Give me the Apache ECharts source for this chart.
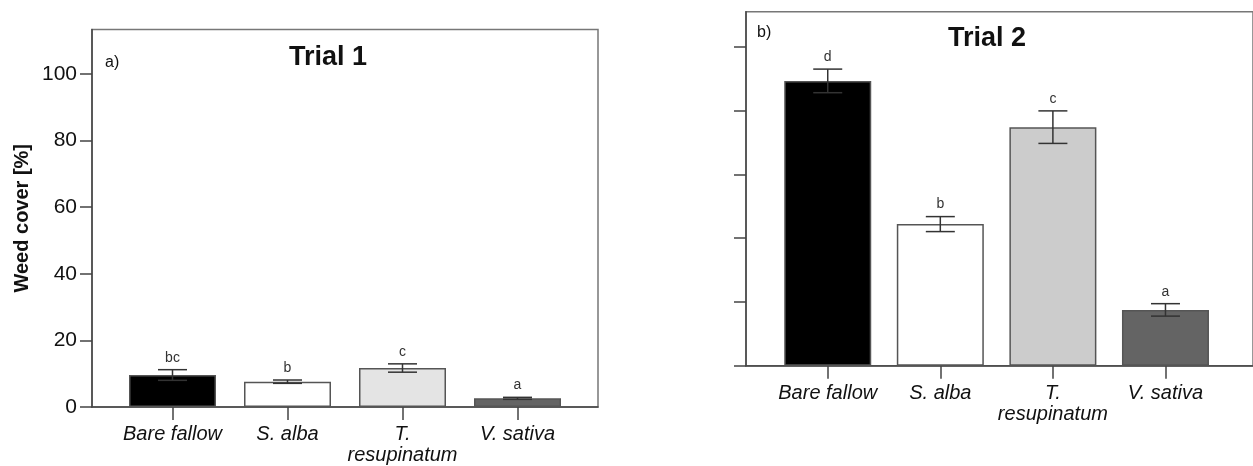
<!DOCTYPE html>
<html>
<head>
<meta charset="utf-8">
<script src="https://cdn.jsdelivr.net/npm/echarts@6/dist/echarts.min.js"></script>
<style>
  html, body { margin: 0; padding: 0; background: #fff; }
  #chart { width: 1253px; height: 466px; }
</style>
</head>
<body>
<div id="chart"></div>
<script>
// data
const categories = ['Bare fallow', 'S. alba', 'T.\nresupinatum', 'V. sativa'];
const trial1Means = [9.6, 7.6, 11.7, 2.6];
const trial1Errors = [1.6, 0.5, 1.25, 0.3];
const trial1Letters = ['bc', 'b', 'c', 'a'];
const trial2Means = [89.3, 44.4, 74.8, 17.5];
const trial2Errors = [3.7, 2.35, 5.1, 1.95];
const trial2Letters = ['d', 'b', 'c', 'a'];
const yTicks = [0, 20, 40, 60, 80, 100];
const catTicks = [0, 1, 2, 3];

const trial1Colors = ['#000000', '#ffffff', '#e4e4e4', '#646464'];
const trial2Colors = ['#000000', '#ffffff', '#cccccc', '#646464'];

const FONT = 'Liberation Sans, Arial, sans-serif';
const axisColor = '#444';

const xAxisFor = (gridIndex, min, max) => ({
  type: 'value',
  gridIndex,
  min,
  max,
  axisLine: { onZero: false, lineStyle: { color: axisColor, width: 1.5 } },
  axisTick: { customValues: catTicks, length: 13, lineStyle: { color: axisColor, width: 1.5 } },
  axisLabel: {
    customValues: catTicks,
    formatter: v => categories[v],
    color: '#111',
    fontFamily: FONT,
    fontStyle: 'italic',
    fontSize: 20,
    lineHeight: 21,
    margin: 17
  },
  splitLine: { show: false }
});

const yAxisFor = (gridIndex, max, showLabels) => ({
  type: 'value',
  gridIndex,
  min: 0,
  max,
  axisLine: { show: true, onZero: false, lineStyle: { color: axisColor, width: 1.5 } },
  axisTick: { show: true, customValues: yTicks, length: 12, lineStyle: { color: axisColor, width: 1.5 } },
  axisLabel: {
    show: showLabels,
    customValues: yTicks,
    color: '#111',
    fontFamily: FONT,
    fontSize: 21,
    margin: 15
  },
  splitLine: { show: false }
});

const barSeries = (idx, means, colors) => ({
  type: 'bar',
  xAxisIndex: idx,
  yAxisIndex: idx,
  barWidth: 87,
  data: means.map((v, i) => ({
    value: [i, v],
    itemStyle: { color: colors[i], borderColor: '#555', borderWidth: 1.5 }
  })),
  animation: false
});

const errorSeries = (idx, means, errors, letters) => ({
  type: 'custom',
  xAxisIndex: idx,
  yAxisIndex: idx,
  z: 5,
  data: means.map((m, i) => [i, m, errors[i]]),
  renderItem: (params, api) => {
    const i = api.value(0);
    const m = api.value(1);
    const e = api.value(2);
    const top = api.coord([i, m + e]);
    const bot = api.coord([i, m - e]);
    const capHalf = 14.5;
    const style = { stroke: '#333', lineWidth: 1.5 };
    return {
      type: 'group',
      children: [
        { type: 'line', shape: { x1: top[0], y1: top[1], x2: bot[0], y2: bot[1] }, style },
        { type: 'line', shape: { x1: top[0] - capHalf, y1: top[1], x2: top[0] + capHalf, y2: top[1] }, style },
        { type: 'line', shape: { x1: bot[0] - capHalf, y1: bot[1], x2: bot[0] + capHalf, y2: bot[1] }, style },
        {
          type: 'text',
          style: {
            text: letters[params.dataIndex],
            x: top[0], y: top[1] - 12,
            align: 'center', verticalAlign: 'middle',
            fill: '#333', font: '14px ' + FONT
          }
        }
      ]
    };
  },
  animation: false
});

const chart = echarts.init(document.getElementById('chart'));
chart.setOption({
  animation: false,
  backgroundColor: '#fff',
  title: [
    { text: 'Trial 1', left: 289, top: 44, padding: 0, textStyle: { fontFamily: FONT, fontSize: 27, fontWeight: 'bold', color: '#111' } },
    { text: 'Trial 2', left: 948, top: 25, padding: 0, textStyle: { fontFamily: FONT, fontSize: 27, fontWeight: 'bold', color: '#111' } },
    { text: 'a)', left: 105, top: 55, padding: 0, textStyle: { fontFamily: FONT, fontSize: 16, fontWeight: 'normal', color: '#111' } },
    { text: 'b)', left: 757, top: 25, padding: 0, textStyle: { fontFamily: FONT, fontSize: 16, fontWeight: 'normal', color: '#111' } }
  ],
  grid: [
    { left: 92, top: 29.5, width: 506, height: 377.5, show: true, borderColor: '#777', borderWidth: 1.5, backgroundColor: 'transparent' },
    { left: 746, top: 11.7, width: 517, height: 354, show: true, borderColor: '#777', borderWidth: 1.5, backgroundColor: 'transparent' }
  ],
  xAxis: [
    xAxisFor(0, -0.70, 3.70),
    xAxisFor(1, -0.726, -0.726 + 517 / 114.8)
  ],
  yAxis: [
    Object.assign(yAxisFor(0, 113.3, true), {
      name: 'Weed cover [%]',
      nameLocation: 'middle',
      nameRotate: 90,
      nameGap: 60,
      nameTextStyle: { fontFamily: FONT, fontSize: 20, fontWeight: 'bold', color: '#111' }
    }),
    yAxisFor(1, 111, false)
  ],
  series: [
    barSeries(0, trial1Means, trial1Colors),
    errorSeries(0, trial1Means, trial1Errors, trial1Letters),
    barSeries(1, trial2Means, trial2Colors),
    errorSeries(1, trial2Means, trial2Errors, trial2Letters)
  ]
});
</script>
</body>
</html>
